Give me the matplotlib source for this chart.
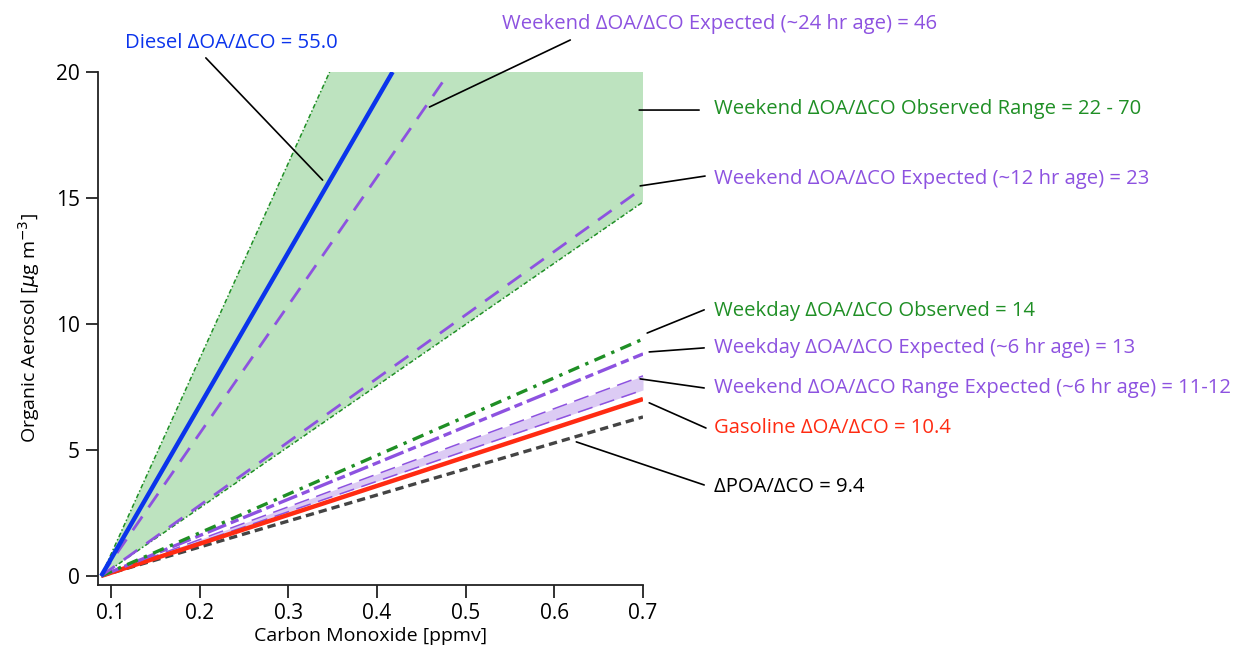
import matplotlib
matplotlib.use('Agg')
import matplotlib.pyplot as plt

plt.rcParams['font.family'] = ['Open Sans', 'DejaVu Sans']

# Dados (CO em ppmv, OA em ug m-3)
co0 = 0.089  # ponto de partida comum de todas as retas

diesel_x = [co0, 0.4176]
diesel_y = [0, 20.0]

obs_range_x = [co0, 0.3466, 0.7, 0.7]
obs_range_y = [0, 20.0, 20.0, 14.84]

exp24_x = [co0, 0.474]
exp24_y = [0, 19.6]

exp12_x = [co0, 0.7]
exp12_y = [0, 15.4]

wkday_obs_x = [co0, 0.7]
wkday_obs_y = [0, 9.40]

wkday_exp_x = [co0, 0.7]
wkday_exp_y = [0, 8.81]

wkend_rng_x = [co0, 0.7]
wkend_rng_lo = [0, 7.38]
wkend_rng_hi = [0, 7.94]

gas_x = [co0, 0.7]
gas_y = [0, 7.02]

poa_x = [co0, 0.7]
poa_y = [0, 6.31]

# Rótulos
labels = [
    'Diesel ΔOA/ΔCO = 55.0',
    'Weekend ΔOA/ΔCO Expected (~24 hr age) = 46',
    'Weekend ΔOA/ΔCO Observed Range = 22 - 70',
    'Weekend ΔOA/ΔCO Expected (~12 hr age) = 23',
    'Weekday ΔOA/ΔCO Observed = 14',
    'Weekday ΔOA/ΔCO Expected (~6 hr age) = 13',
    'Weekend ΔOA/ΔCO Range Expected (~6 hr age) = 11-12',
    'Gasoline ΔOA/ΔCO = 10.4',
    'ΔPOA/ΔCO = 9.4',
]

# Cores
azul = '#0b34ec'
verde = '#1f8f25'
verde_fill = '#bde3bf'
roxo = '#8d52e0'
roxo_claro = '#dccbf4'
vermelho = '#ff2b12'
cinza = '#444444'

label_cores = [azul, roxo, verde, roxo, verde, roxo, roxo, vermelho, 'black']

# posição do texto e segmentos das linhas de chamada (início, fim)
text_pos = [(0.1158, 21.15), (0.5414, 21.9), (0.780, 18.53), (0.780, 15.75),
            (0.780, 10.52), (0.780, 9.05), (0.780, 7.46), (0.780, 5.87),
            (0.780, 3.53)]
leader = [((0.207, 20.56), (0.3387, 15.71)),
          ((0.618, 21.27), (0.4592, 18.61)),
          ((0.7633, 18.49), (0.6957, 18.49)),
          ((0.770, 15.87), (0.6968, 15.48)),
          ((0.769, 10.56), (0.7047, 9.64)),
          ((0.769, 9.05), (0.707, 8.89)),
          ((0.769, 7.46), (0.6968, 7.82)),
          ((0.771, 5.87), (0.707, 6.87)),
          ((0.769, 3.61), (0.6248, 5.32))]

fig = plt.figure(figsize=(12.34, 6.5), dpi=100)
ax = fig.add_axes([98/1234, 1 - 585/650, (643 - 98)/1234, (585 - 72)/650])

# Faixa observada (fim de semana)
ax.fill(obs_range_x, obs_range_y, color=verde_fill, lw=0, zorder=1)
ax.plot(obs_range_x[:2], obs_range_y[:2], color=verde, lw=1.1,
        ls=(0, (3, 1.5, 1, 1.5)), zorder=2)
ax.plot([obs_range_x[0], obs_range_x[3]], [obs_range_y[0], obs_range_y[3]],
        color=verde, lw=1.1, ls=(0, (3, 1.5, 1, 1.5)), zorder=2)

# Faixa esperada (~6 h)
ax.fill_between(wkend_rng_x, wkend_rng_lo, wkend_rng_hi, color=roxo_claro,
                lw=0, zorder=2)
ax.plot(wkend_rng_x, wkend_rng_lo, color=roxo, lw=1.1, ls=(0, (10, 5)), zorder=3)
ax.plot(wkend_rng_x, wkend_rng_hi, color=roxo, lw=1.1, ls=(0, (10, 5)), zorder=3)

ax.plot(poa_x, poa_y, color=cinza, lw=2.4, ls=(0, (2.5, 1.5)), zorder=3)
ax.plot(gas_x, gas_y, color=vermelho, lw=3.2, solid_capstyle='butt', zorder=4)
ax.plot(wkday_exp_x, wkday_exp_y, color=roxo, lw=2.4,
        ls=(0, (6, 1.5, 2.5, 1.5)), zorder=4)
ax.plot(wkday_obs_x, wkday_obs_y, color=verde, lw=2.4,
        ls=(0, (3.5, 2, 1, 2)), zorder=4)
ax.plot(exp12_x, exp12_y, color=roxo, lw=2.0, ls=(0, (6, 4)), zorder=4)
ax.plot(exp24_x, exp24_y, color=roxo, lw=2.0, ls=(0, (6, 4)), zorder=4)
ax.plot(diesel_x, diesel_y, color=azul, lw=3.2, solid_capstyle='butt', zorder=5)

# Anotações
for txt, cor, pos, (p0, p1) in zip(labels, label_cores, text_pos, leader):
    ax.annotate('', xy=p1, xytext=p0,
                arrowprops=dict(arrowstyle='-', color='black', lw=1.2,
                                shrinkA=0, shrinkB=0),
                annotation_clip=False)
    ax.text(pos[0], pos[1], txt, color=cor, fontsize=14.6, ha='left',
            va='center', clip_on=False)

# Eixos
ax.set_xlim(0.0854, 0.7)
ax.set_ylim(-0.36, 20)
ax.set_xticks([0.1, 0.2, 0.3, 0.4, 0.5, 0.6, 0.7])
ax.set_xticklabels(['0.1', '0.2', '0.3', '0.4', '0.5', '0.6', '0.7'])
ax.set_yticks([0, 5, 10, 15, 20])
ax.spines['top'].set_visible(False)
ax.spines['right'].set_visible(False)
for s in ['left', 'bottom']:
    ax.spines[s].set_linewidth(1.3)
    ax.spines[s].set_color('#222222')
ax.tick_params(direction='out', length=9, width=1.3, labelsize=15,
               color='#222222', pad=4)
ax.set_xlabel('Carbon Monoxide [ppmv]', fontsize=14, labelpad=2)
ax.set_ylabel(r'Organic Aerosol [$\mu$g m$^{-3}$]', fontsize=14, labelpad=10)

fig.savefig('out.png', dpi=100)
